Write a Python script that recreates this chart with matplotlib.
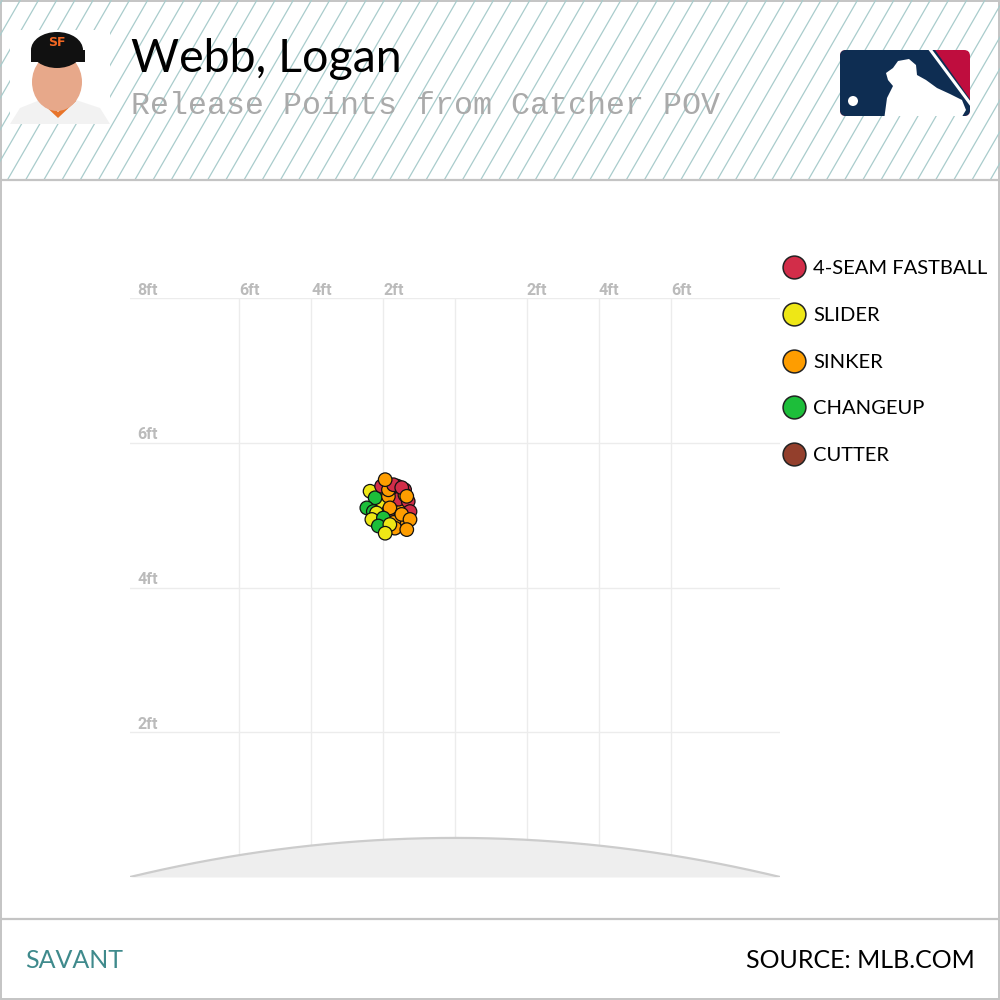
import matplotlib
matplotlib.use("Agg")
import matplotlib.pyplot as plt
import numpy as np
from matplotlib.patches import Rectangle, FancyBboxPatch, Polygon, Ellipse, Circle

# ---------------- data ----------------
pitch_codes = ["FF", "SL", "SI", "CH", "FC"]
pitch_names = ["4-SEAM FASTBALL", "SLIDER", "SINKER", "CHANGEUP", "CUTTER"]
pitch_colors = ["#d22d49", "#eee716", "#fe9d00", "#1dbe3a", "#933f2c"]

# release points (ft) from catcher POV, in pitch order
pitch_type = ["SI", "FF", "SI", "CH", "SL", "FC", "SI", "FF", "SI", "CH", "SL", "FC",
              "SI", "FF", "SI", "CH", "SL", "FC", "SI", "FF", "CH", "SI",
              "FF", "SI", "FF", "SL", "CH", "FF", "SI", "SI", "CH", "CH", "SI", "SL",
              "FF", "SI", "SI", "SL", "CH", "CH", "SL", "SI", "SI", "SL",
              "FF", "FF", "SI", "SI"]
release_x = [-1.70, -1.65, -1.60, -2.00, -1.95, -1.75, -1.55, -1.75, -1.90, -2.10, -2.05, -1.65,
             -1.50, -1.60, -1.80, -2.15, -2.00, -1.85, -1.45, -1.40, -2.25, -1.70,
             -1.57, -1.39, -1.30, -2.36, -2.22, -1.25, -1.85, -1.81, -2.45, -2.27, -1.48, -2.18,
             -2.04, -1.25, -1.67, -2.31, -1.99, -2.13, -1.81, -1.34, -1.85, -1.94,
             -1.71, -1.48, -1.94, -1.34]
release_z = [5.15, 5.28, 5.10, 5.12, 5.00, 5.20, 4.95, 5.35, 5.20, 5.00, 5.15, 5.00,
             5.25, 5.40, 4.95, 5.30, 4.88, 5.05, 5.08, 5.35, 4.95, 4.90,
             5.22, 5.28, 5.19, 5.33, 5.24, 5.05, 5.26, 5.10, 5.10, 5.05, 5.01, 5.03,
             5.40, 4.94, 4.82, 4.94, 4.96, 4.85, 4.87, 4.80, 5.35, 4.75,
             5.42, 5.38, 5.49, 5.26]

x_ticks = [-6, -4, -2, 2, 4, 6]
y_ticks = [2, 4, 6, 8]
mound_height = 0.54

title = "Webb, Logan"
subtitle = "Release Points from Catcher POV"

# ---------------- figure ----------------
fig = plt.figure(figsize=(10, 10), dpi=100)
fig.patch.set_facecolor("white")

deco = fig.add_axes([0, 0, 1, 1], zorder=0)
deco.set_xlim(0, 1000)
deco.set_ylim(1000, 0)
deco.axis("off")

# header hatch
hdr = Rectangle((0, 0), 1000, 180, facecolor="white", edgecolor="none")
deco.add_patch(hdr)
for x0 in np.arange(-120, 1010, 18.2):
    ln, = deco.plot([x0, x0 + 104], [180, 0], color="#a9cccc", lw=0.9, solid_capstyle="butt")
    ln.set_clip_path(hdr)
deco.plot([0, 1000], [180, 180], color="#c4c4c4", lw=1.6)
deco.plot([0, 1000], [919, 919], color="#c4c4c4", lw=1.6)
deco.add_patch(Rectangle((0.8, 0.8), 998.4, 998.4, facecolor="none", edgecolor="#c4c4c4", lw=1.4))

# player photo placeholder (simple shapes)
deco.add_patch(Rectangle((10, 30), 100, 94, facecolor="white", edgecolor="none", zorder=2))
deco.add_patch(Polygon([[10, 124], [20, 108], [40, 100], [58, 104], [76, 100], [100, 108], [110, 124]],
                       closed=True, facecolor="#f2f2f2", edgecolor="none", zorder=3))
deco.add_patch(Polygon([[40, 101], [58, 118], [76, 101], [72, 99], [58, 112], [44, 99]],
                       closed=True, facecolor="#e8742a", edgecolor="none", zorder=4))
deco.add_patch(Ellipse((57, 82), 50, 58, facecolor="#e7a88a", edgecolor="none", zorder=4))
deco.add_patch(Ellipse((57, 50), 52, 36, facecolor="#111111", edgecolor="none", zorder=5))
deco.add_patch(Rectangle((31, 50), 54, 12, facecolor="#111111", edgecolor="none", zorder=5))
deco.text(57, 42, "SF", color="#f26722", fontsize=9, fontweight="bold", ha="center", va="center", zorder=6)

# MLB logo approximation
logo_box = FancyBboxPatch((840, 50), 130, 66, boxstyle="round,pad=0,rounding_size=6",
                          facecolor="#bf0d3e", edgecolor="none", zorder=2)
deco.add_patch(logo_box)
navy = Polygon([[830, 40], [928, 40], [972, 102], [972, 125], [830, 125]], closed=True,
               facecolor="#0e2d52", edgecolor="none", zorder=3)
deco.add_patch(navy)
navy.set_clip_path(logo_box)
bat, = deco.plot([926, 975], [44, 110], color="white", lw=2.2, zorder=4)
bat.set_clip_path(logo_box)
body = Polygon([[884, 120], [887, 98], [893, 86], [888, 80], [886, 73], [893, 68], [898, 61],
                [909, 59], [916, 65], [917, 75], [926, 80], [937, 88], [950, 94], [962, 100],
                [966, 110], [960, 120]], closed=True, facecolor="white", edgecolor="none", zorder=5)
deco.add_patch(body)
body.set_clip_path(logo_box)
deco.add_patch(Circle((853, 101), 5, facecolor="white", edgecolor="none", zorder=6))

# titles
deco.text(131, 59, title, fontsize=33.5, family="Lato", color="black", ha="left", va="center")
deco.text(131, 106, subtitle, fontsize=22.8, family="Liberation Mono", color="#aaaaaa",
          ha="left", va="center")

# footer
deco.text(25, 961, "SAVANT", fontsize=18, family="Lato", color="#3f8a8c", ha="left", va="center")
deco.text(975, 961, "SOURCE: MLB.COM", fontsize=18, family="Lato", color="black", ha="right", va="center")

# legend
leg_y = [267, 314, 361, 407, 454]
for name, col, yy in zip(pitch_names, pitch_colors, leg_y):
    deco.scatter([794], [yy], s=270, color=col, edgecolor="#222222", linewidth=1.1, zorder=5)
    deco.text(813, yy + 1.5, name, fontsize=14.5, family="Lato", color="black", ha="left", va="center")

# ---------------- main plot ----------------
ax = fig.add_axes([0.13, 0.123, 0.65, 0.579], zorder=1)
ax.set_facecolor("none")
ax.set_xlim(-9.03, 9.03)
ax.set_ylim(0, 8)
ax.axis("off")

grid_c = "#ececec"
for xv in [-6, -4, -2, 0, 2, 4, 6]:
    ax.plot([xv, xv], [0, 8], color=grid_c, lw=1, zorder=1)
for yv in y_ticks:
    ax.plot([-9.03, 9.03], [yv, yv], color=grid_c, lw=1, zorder=1)

# mound
mx = np.linspace(-9.03, 9.03, 200)
mz = mound_height * (1 - (mx / 9.03) ** 2)
ax.fill_between(mx, 0, mz, color="#eeeeee", zorder=2, lw=0)
ax.plot(mx, mz, color="#cccccc", lw=1.6, zorder=3)

# tick labels
lab_kw = dict(fontsize=11.5, family="Roboto", fontweight="bold", color="#bbbbbb", va="center", zorder=4)
for yv in y_ticks:
    ax.text(-8.83, yv + 0.11, f"{yv}ft", ha="left", **lab_kw)
for xv in x_ticks:
    ax.text(xv, 8.11, f"{abs(xv)}ft", ha="left", clip_on=False, **lab_kw)

# points (single scatter in pitch order)
color_map = dict(zip(pitch_codes, pitch_colors))
pt_colors = [color_map[c] for c in pitch_type]
ax.scatter(release_x, release_z, c=pt_colors, s=95, edgecolor="#111111", linewidth=0.9, zorder=5)

fig.savefig("out.png", dpi=100, facecolor="white")
